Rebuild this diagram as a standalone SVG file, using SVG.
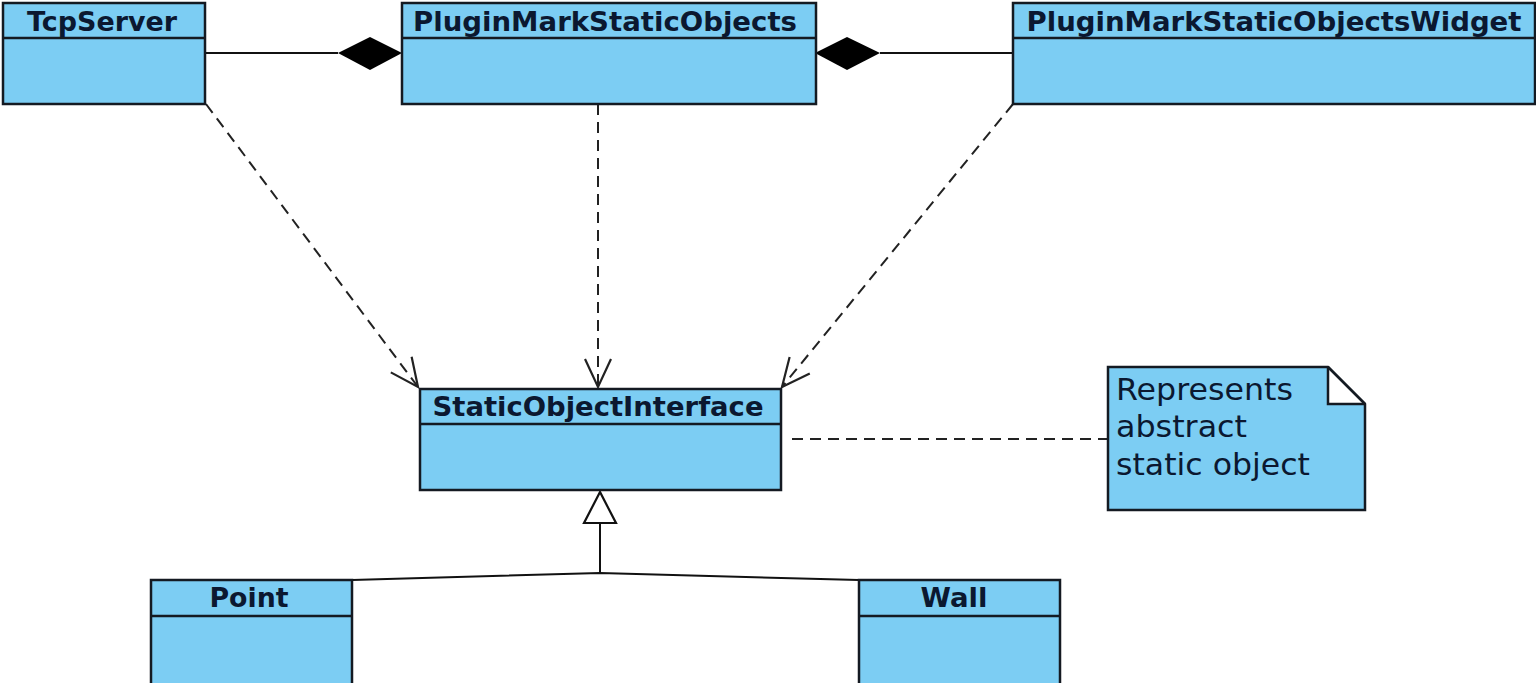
<svg xmlns="http://www.w3.org/2000/svg" width="1536" height="683" viewBox="0 0 1536 683">
<style>
.box{fill:#7ccdf3;stroke:#141a22;stroke-width:2.5}
.sep{stroke:#141a22;stroke-width:2.5}
.hd{font-family:"DejaVu Sans",sans-serif;font-weight:bold;font-size:26px;fill:#0b1830;text-anchor:middle}
.nt{font-family:"DejaVu Sans",sans-serif;font-size:30px;fill:#0b1830}
.dep{fill:none;stroke:#222;stroke-width:2;stroke-dasharray:11,7}
.ln{fill:none;stroke:#111;stroke-width:2}
</style>
<defs>
<marker id="open" markerUnits="userSpaceOnUse" markerWidth="40" markerHeight="40" refX="30" refY="15" orient="auto">
<path d="M2,2 L30,15 L2,28" fill="none" stroke="#222" stroke-width="2.2"/>
</marker>
</defs>
<rect width="1536" height="683" fill="#fff"/>
<g id="connectors">
<line class="ln" x1="205" y1="53" x2="338" y2="53"/>
<polygon points="338,53 370,37 402,53 370,70" fill="#000"/>
<line class="ln" x1="880" y1="53" x2="1013" y2="53"/>
<polygon points="815,53 847,37 880,53 847,70" fill="#000"/>
<line class="dep" x1="206" y1="104" x2="418" y2="387" marker-end="url(#open)"/>
<line class="dep" x1="598" y1="104" x2="598" y2="387" marker-end="url(#open)"/>
<line class="dep" x1="1013" y1="104" x2="782" y2="387" marker-end="url(#open)"/>
<line class="dep" x1="792" y1="439" x2="1108" y2="439"/>
<polyline class="ln" points="352,580 600,573 859,580"/>
<line class="ln" x1="600" y1="523" x2="600" y2="573"/>
<polygon points="600,492 584,523 616,523" fill="#fff" stroke="#111" stroke-width="2.2"/>
</g>
<g id="TcpServer">
<rect class="box" x="3" y="3" width="202" height="101"/>
<line class="sep" x1="3" y1="38" x2="205" y2="38"/>
<text class="hd" x="102" y="31" textLength="150" lengthAdjust="spacingAndGlyphs">TcpServer</text>
</g>
<g id="PluginMarkStaticObjects">
<rect class="box" x="402" y="3" width="414" height="101"/>
<line class="sep" x1="402" y1="38" x2="816" y2="38"/>
<text class="hd" x="605" y="31" textLength="384" lengthAdjust="spacingAndGlyphs">PluginMarkStaticObjects</text>
</g>
<g id="PluginMarkStaticObjectsWidget">
<rect class="box" x="1013" y="3" width="522" height="101"/>
<line class="sep" x1="1013" y1="38" x2="1535" y2="38"/>
<text class="hd" x="1274" y="31" textLength="495" lengthAdjust="spacingAndGlyphs">PluginMarkStaticObjectsWidget</text>
</g>
<g id="StaticObjectInterface">
<rect class="box" x="420" y="389" width="361" height="101"/>
<line class="sep" x1="420" y1="424" x2="781" y2="424"/>
<text class="hd" x="598" y="416" textLength="331" lengthAdjust="spacingAndGlyphs">StaticObjectInterface</text>
</g>
<g id="note">
<path class="box" d="M1108,367 L1328,367 L1365,404 L1365,510 L1108,510 Z"/>
<path d="M1328,367 L1328,404 L1365,404" fill="#fff" stroke="#141a22" stroke-width="2.5"/>
<line x1="1328" y1="367" x2="1365" y2="404" stroke="#141a22" stroke-width="2.5"/>
<text class="nt" x="1116" y="400" textLength="177" lengthAdjust="spacingAndGlyphs">Represents</text>
<text class="nt" x="1116" y="437" textLength="131" lengthAdjust="spacingAndGlyphs">abstract</text>
<text class="nt" x="1116" y="475" textLength="194" lengthAdjust="spacingAndGlyphs">static object</text>
</g>
<g id="Point">
<rect class="box" x="151" y="580" width="201" height="110"/>
<line class="sep" x1="151" y1="616" x2="352" y2="616"/>
<text class="hd" x="249" y="607" textLength="79" lengthAdjust="spacingAndGlyphs">Point</text>
</g>
<g id="Wall">
<rect class="box" x="859" y="580" width="201" height="110"/>
<line class="sep" x1="859" y1="616" x2="1060" y2="616"/>
<text class="hd" x="954" y="607" textLength="67" lengthAdjust="spacingAndGlyphs">Wall</text>
</g>
</svg>
